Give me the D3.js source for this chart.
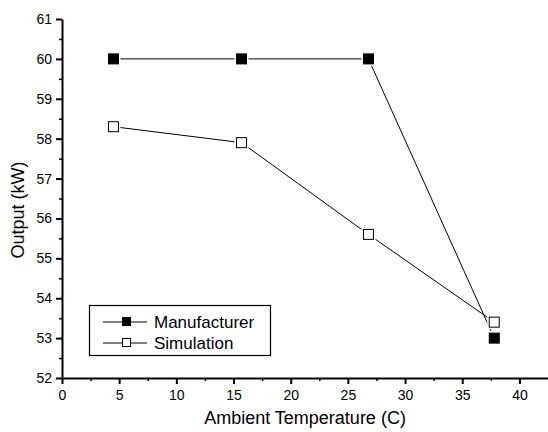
<!DOCTYPE html>
<html>
<head>
<meta charset="utf-8">
<script src="https://cdn.jsdelivr.net/npm/d3@7"></script>
<style>
  body { margin: 0; background: #fff; }
  text { font-family: "Liberation Sans", Arial, sans-serif; fill: #000; }
</style>
</head>
<body>
<svg id="chart" width="548" height="432"></svg>
<script>
// values
const temps = [4.5, 15.7, 26.8, 37.8];
const manufacturer = [60, 60, 60, 53];
const simulation = [58.3, 57.9, 55.6, 53.4];
const xTicks = [0, 5, 10, 15, 20, 25, 30, 35, 40];
const yTicks = [52, 53, 54, 55, 56, 57, 58, 59, 60, 61];

const svg = d3.select("#chart");

const x = d3.scaleLinear().domain([0, 42.5]).range([62, 548]);
const y = d3.scaleLinear().domain([52, 61]).range([378, 19]);

// minor ticks first
const xMinor = d3.range(2.5, 42.5, 5);
const yMinor = d3.range(52.5, 61, 1);

svg.append("g")
    .attr("transform", "translate(0,378)")
    .call(d3.axisBottom(x).tickValues(xMinor).tickSize(3).tickFormat(""))
    .call(g => g.select(".domain").remove())
    .selectAll("line").attr("stroke-width", 1.5);

svg.append("g")
    .attr("transform", "translate(62,0)")
    .call(d3.axisLeft(y).tickValues(yMinor).tickSize(3).tickFormat(""))
    .call(g => g.select(".domain").remove())
    .selectAll("line").attr("stroke-width", 1.5);

const xAxis = svg.append("g")
    .attr("transform", "translate(0,378)")
    .call(d3.axisBottom(x).tickValues(xTicks).tickSize(6).tickSizeOuter(0).tickPadding(6));
xAxis.select(".domain").attr("stroke-width", 2);
xAxis.selectAll(".tick line").attr("stroke-width", 2);
xAxis.selectAll("text").attr("font-size", 14);

const yAxis = svg.append("g")
    .attr("transform", "translate(62,0)")
    .call(d3.axisLeft(y).tickValues(yTicks).tickSize(6).tickSizeOuter(0).tickPadding(4));
yAxis.select(".domain").attr("stroke-width", 2);
yAxis.selectAll(".tick line").attr("stroke-width", 2);
yAxis.selectAll("text").attr("font-size", 14);

// axis titles
svg.append("text")
    .attr("x", 305).attr("y", 424)
    .attr("text-anchor", "middle")
    .attr("font-size", 18)
    .text("Ambient Temperature (C)");

svg.append("text")
    .attr("transform", "translate(24,210) rotate(-90)")
    .attr("text-anchor", "middle")
    .attr("font-size", 18)
    .text("Output (kW)");

// series
const line = d3.line().x(d => x(d[0])).y(d => y(d[1]));
const series = [
  { name: "Manufacturer", values: manufacturer, fill: "#000" },
  { name: "Simulation", values: simulation, fill: "#fff" }
];

series.forEach(s => {
  const pts = temps.map((t, i) => [t, s.values[i]]);
  svg.append("path")
      .datum(pts)
      .attr("d", line)
      .attr("fill", "none")
      .attr("stroke", "#000")
      .attr("stroke-width", 1);
});

series.forEach(s => {
  const pts = temps.map((t, i) => [t, s.values[i]]);
  const g = svg.append("g");
  // white halo so the lines stop short of the markers
  g.selectAll("rect.halo").data(pts).join("rect")
      .attr("x", d => x(d[0]) - 7).attr("y", d => y(d[1]) - 7)
      .attr("width", 14).attr("height", 14)
      .attr("fill", "#fff");
  g.selectAll("rect.mark").data(pts).join("rect")
      .attr("x", d => x(d[0]) - 5).attr("y", d => y(d[1]) - 5)
      .attr("width", 10).attr("height", 10)
      .attr("fill", s.fill)
      .attr("stroke", "#000")
      .attr("stroke-width", 1);
});

// legend
const legend = svg.append("g");
legend.append("rect")
    .attr("x", 89.5).attr("y", 305.5)
    .attr("width", 181).attr("height", 50)
    .attr("fill", "#fff").attr("stroke", "#000").attr("stroke-width", 1.2);

series.forEach((s, i) => {
  const ly = 322 + i * 21;
  legend.append("line")
      .attr("x1", 103).attr("x2", 147)
      .attr("y1", ly).attr("y2", ly)
      .attr("stroke", "#000").attr("stroke-width", 1);
  legend.append("rect")
      .attr("x", 122.5).attr("y", ly - 4.5)
      .attr("width", 8).attr("height", 8)
      .attr("fill", s.fill).attr("stroke", "#000");
  legend.append("text")
      .attr("x", 154).attr("y", ly + 6)
      .attr("font-size", 17)
      .text(s.name);
});
</script>
</body>
</html>
